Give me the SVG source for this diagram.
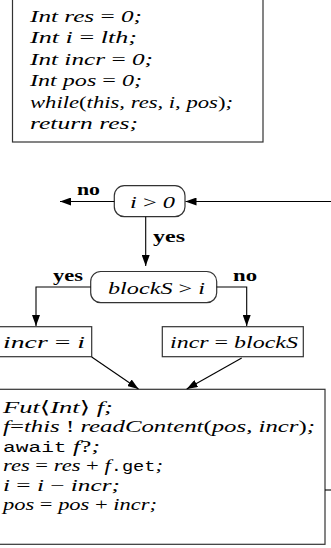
<svg xmlns="http://www.w3.org/2000/svg" width="331" height="548" viewBox="0 0 331 548">
<style>
.bg{fill:#fff}
.box{fill:#fff;stroke:#333;stroke-width:1.2}
.conn{fill:none;stroke:#000;stroke-width:1.1}
.m{font-family:"Liberation Serif","DejaVu Serif",serif;font-style:italic;font-size:17.5px;fill:#000}
.u{font-style:normal}
.tt{font-family:"Liberation Mono","DejaVu Sans Mono",monospace;font-style:normal;font-size:14.5px}
.lbl{font-family:"Liberation Serif","DejaVu Serif",serif;font-weight:bold;font-size:17px;fill:#000}
</style>
<defs>
<marker id="ah" markerUnits="userSpaceOnUse" markerWidth="11" markerHeight="8" refX="11" refY="4" orient="auto">
<path d="M0,0 L11,4 L0,8 z" fill="#000"/>
</marker>
</defs>
<rect class="bg" x="0" y="0" width="331" height="548"/>

<g id="init">
<rect class="box" x="12.5" y="-5" width="250.5" height="147"/>
<text class="m" x="30" y="21.5" textLength="112" lengthAdjust="spacingAndGlyphs">Int res <tspan class="u">=</tspan> 0;</text>
<text class="m" x="30" y="43" textLength="107" lengthAdjust="spacingAndGlyphs">Int i <tspan class="u">=</tspan> lth;</text>
<text class="m" x="30" y="64.5" textLength="123" lengthAdjust="spacingAndGlyphs">Int incr <tspan class="u">=</tspan> 0;</text>
<text class="m" x="30" y="86" textLength="112" lengthAdjust="spacingAndGlyphs">Int pos <tspan class="u">=</tspan> 0;</text>
<text class="m" x="30" y="107.5" textLength="203" lengthAdjust="spacingAndGlyphs">while<tspan class="u">(</tspan>this, res, i, pos<tspan class="u">)</tspan>;</text>
<text class="m" x="30" y="129" textLength="108" lengthAdjust="spacingAndGlyphs">return res;</text>
</g>

<g id="cond1">
<rect class="box" x="114.3" y="185.7" width="70.7" height="31" rx="10" ry="10"/>
<text class="m" x="130" y="207.5" textLength="45" lengthAdjust="spacingAndGlyphs">i <tspan class="u">&gt;</tspan> 0</text>
</g>

<g id="cond2">
<rect class="box" x="90.7" y="271.5" width="126" height="31.2" rx="10" ry="10"/>
<text class="m" x="108" y="293.5" textLength="97" lengthAdjust="spacingAndGlyphs">blockS <tspan class="u">&gt;</tspan> i</text>
</g>

<g id="incri">
<rect class="box" x="-1" y="326.7" width="92.7" height="30"/>
<text class="m" x="3" y="348" textLength="82" lengthAdjust="spacingAndGlyphs">incr <tspan class="u">=</tspan> i</text>
</g>

<g id="incrb">
<rect class="box" x="162.3" y="326.7" width="141" height="30"/>
<text class="m" x="170" y="348" textLength="128" lengthAdjust="spacingAndGlyphs">incr <tspan class="u">=</tspan> blockS</text>
</g>

<g id="body">
<rect class="box" x="-1" y="389.3" width="326" height="155"/>
<text class="m" x="3" y="412.5" textLength="110" lengthAdjust="spacingAndGlyphs">Fut<tspan class="u">⟨</tspan>Int<tspan class="u">⟩</tspan> f;</text>
<text class="m" x="3" y="432" textLength="312" lengthAdjust="spacingAndGlyphs">f<tspan class="u">=</tspan>this <tspan class="u">!</tspan> readContent<tspan class="u">(</tspan>pos, incr<tspan class="u">)</tspan>;</text>
<text class="m" x="3" y="451.5" textLength="97" lengthAdjust="spacingAndGlyphs"><tspan class="tt">await</tspan> f<tspan class="u">?</tspan>;</text>
<text class="m" x="3" y="471" textLength="160" lengthAdjust="spacingAndGlyphs">res <tspan class="u">=</tspan> res <tspan class="u">+</tspan> f<tspan class="tt">.get</tspan>;</text>
<text class="m" x="3" y="490.5" textLength="117" lengthAdjust="spacingAndGlyphs">i <tspan class="u">=</tspan> i <tspan class="u">−</tspan> incr;</text>
<text class="m" x="3" y="510" textLength="154" lengthAdjust="spacingAndGlyphs">pos <tspan class="u">=</tspan> pos <tspan class="u">+</tspan> incr;</text>
</g>

<g id="connectors">
<path class="conn" d="M114.3,201.5 H60" marker-end="url(#ah)"/>
<path class="conn" d="M331,201.5 H185.5" marker-end="url(#ah)"/>
<path class="conn" d="M145.7,216.7 V266" marker-end="url(#ah)"/>
<path class="conn" d="M90.7,287 H36 V326" marker-end="url(#ah)"/>
<path class="conn" d="M216.7,287 H246.7 V326" marker-end="url(#ah)"/>
<path class="conn" d="M91.7,357 L138.5,389" marker-end="url(#ah)"/>
<path class="conn" d="M241.7,358 L186.7,389" marker-end="url(#ah)"/>
<path class="conn" d="M325,490 H331"/>
<text class="lbl" x="77" y="195" textLength="23" lengthAdjust="spacingAndGlyphs">no</text>
<text class="lbl" x="153" y="242" textLength="32" lengthAdjust="spacingAndGlyphs">yes</text>
<text class="lbl" x="53" y="281" textLength="30" lengthAdjust="spacingAndGlyphs">yes</text>
<text class="lbl" x="233" y="281" textLength="24" lengthAdjust="spacingAndGlyphs">no</text>
</g>
</svg>
